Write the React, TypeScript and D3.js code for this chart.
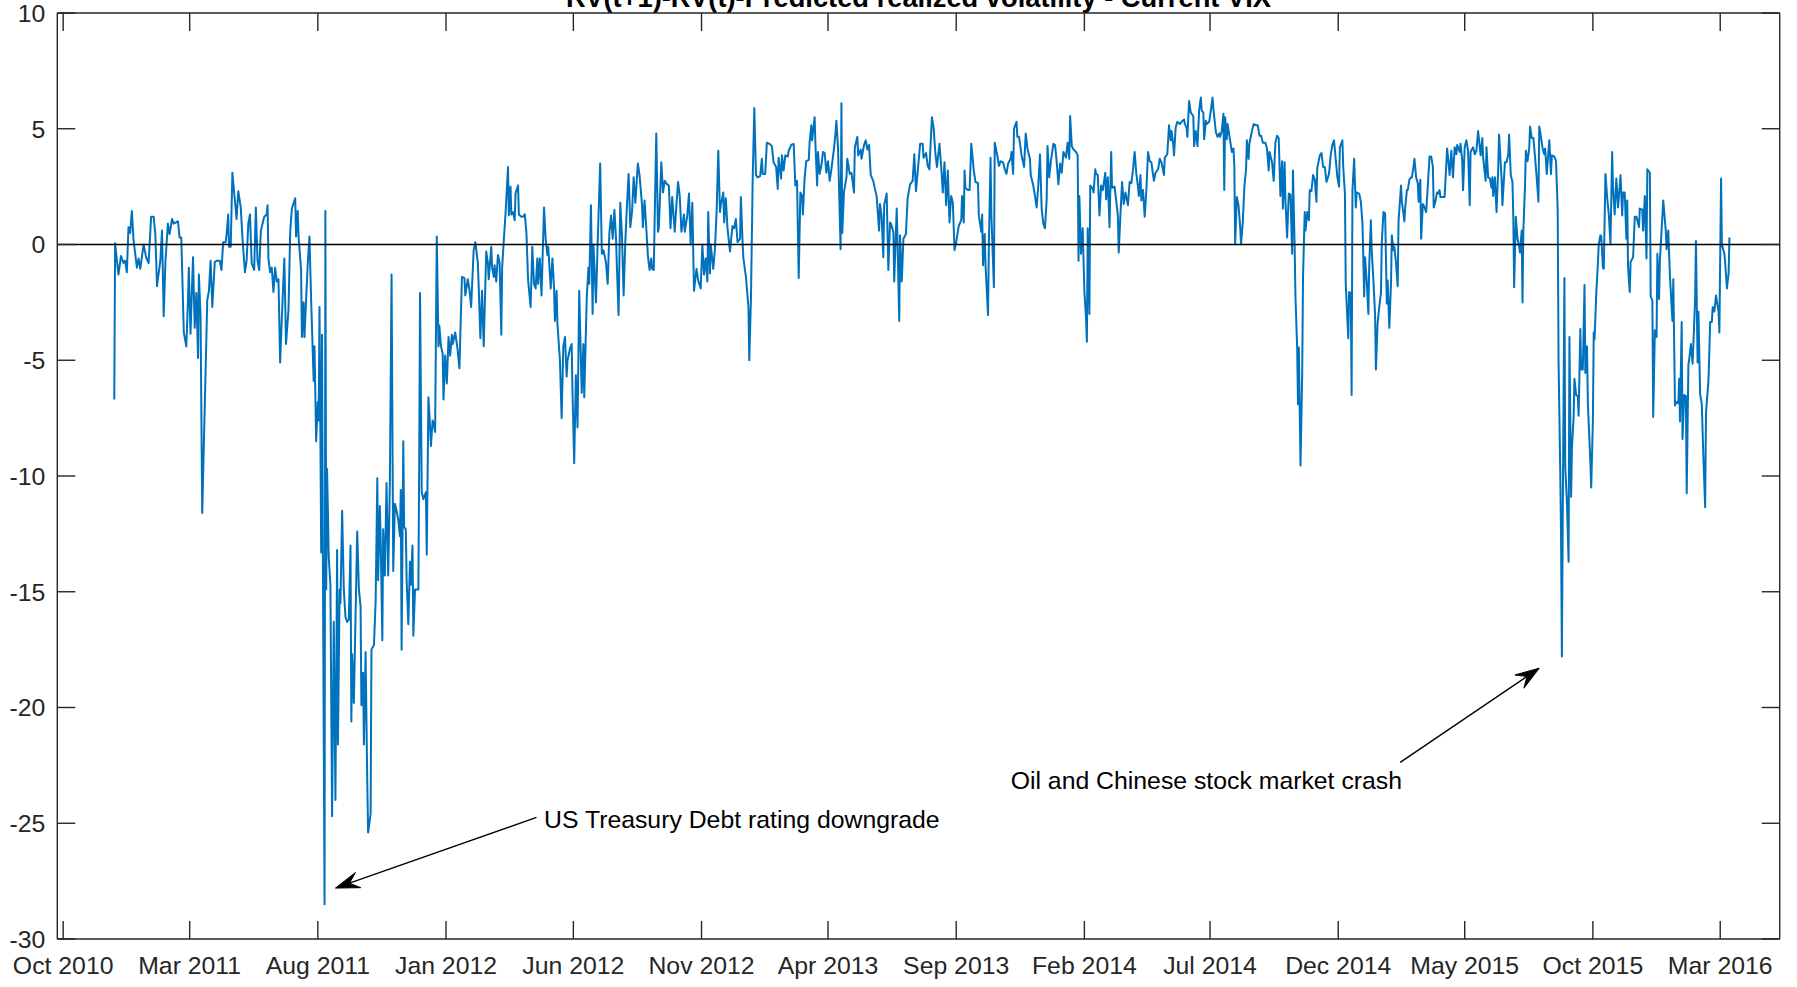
import React from "react";
import * as d3 from "d3";

// Daily observations: [days after 1 Oct 2010, value]
const EPOCH = Date.UTC(2010, 9, 1);
const DAY_MS = 86400000;

const obs2011a: [number, number][] = [
  [61, -6.7], [62, 0.05], [66, -1.3], [69, -0.5], [72, -0.8], [74, -0.7], [76, -1.2], [78, 0.75], [80, 0.5], [82, 1.45],
  [84, 0.2], [88, -1.0], [90, -0.6], [92, -1.05], [96, 0], [99, -0.55], [102, -0.8], [105, 1.2], [108, 1.2], [110, 0.45],
  [112, -1.8], [116, -0.7], [118, 0.6], [120, -3.1], [122, -0.8], [125, 0.9], [127, 0.45], [130, 1.1], [132, 0.9], [137, 1.0],
  [139, 0.3], [141, 0.3], [144, -3.8], [147, -4.4], [149, -2.4], [150, -1.0], [152, -3.85], [155, -0.55], [157, -3.6], [159, -2.1],
  [161, -4.9], [162, -1.3], [164, -3.1], [166, -11.6], [172, -2.4], [174, -2.0], [176, -0.7], [178, -2.7], [181, -0.75], [184, -0.7],
  [187, -0.7], [189, -1.1], [191, 0.1], [194, 0.1], [195, 0.4], [197, 1.3], [198, -0.1], [200, -0.1], [202, 3.1], [205, 1.9],
  [207, 1.1], [209, 2.3], [212, 1.6], [214, 0.3], [217, -1.2], [219, -0.7], [221, 0.9], [223, 1.3], [225, -0.8], [228, -1.1],
  [230, 1.6], [232, -0.7], [234, -1.1], [236, 0.6], [240, 1.2], [243, 1.3], [244, 1.7], [245, -0.6], [247, -1.2], [249, -1.0],
  [251, -2.05],
];

const obs2011b: [number, number][] = [
  [253, -1.0], [255, -1.6], [257, -1.5], [259, -5.1], [261, -3.2], [264, -0.6], [266, -4.3], [269, -2.8], [271, 0.55], [273, 1.55],
  [277, 2.0], [278, 0.35], [280, 1.45], [281, 0.35], [284, -1.1], [285, -4.0], [287, -2.5], [288, -4.0], [290, -2.4], [292, -0.8],
  [294, 0.35], [296, -2.4], [299, -5.9], [300, -4.4], [302, -8.5], [304, -6.8], [305, -7.6], [306, -2.7], [308, -13.3], [309, -3.9],
  [310, -13.3], [312, -28.5], [313, 1.45], [314, -14.9], [315, -9.7], [316, -11.5], [317, -13.5], [319, -14.7], [321, -24.7], [323, -16.3],
  [325, -24.0], [327, -13.2], [328, -21.6], [330, -14.9], [331, -15.5], [333, -11.5], [335, -14.9], [337, -16.1], [339, -16.3], [341, -16.2],
  [343, -13.0], [344, -20.6], [345, -17.7], [347, -19.8], [349, -16.1], [351, -12.4], [353, -14.9], [355, -15.6], [356, -19.9], [358, -18.5],
  [359, -21.6], [361, -17.6], [363, -23.2], [364, -25.4], [367, -24.6], [368, -17.5], [371, -17.3], [373, -15.4], [375, -10.1], [376, -14.5],
  [378, -11.3], [379, -12.7], [381, -17.1], [382, -12.3], [384, -14.3], [386, -10.3], [388, -14.3], [390, -10.3], [392, -1.3], [394, -14.1],
  [396, -11.2], [398, -11.5], [400, -11.9], [402, -12.6], [403, -10.6], [404, -17.5], [406, -8.5], [407, -12.2], [409, -12.3], [410, -14.5],
  [412, -16.4], [414, -13.7], [415, -14.7], [417, -13.0], [418, -16.9], [420, -14.9], [422, -14.9], [424, -14.9], [425, -9.3], [426, -2.1],
  [428, -10.7], [430, -11.0], [433, -10.7], [434, -13.4], [436, -6.6], [437, -7.2], [439, -8.7], [441, -7.6], [442, -7.7], [444, -8.1],
  [446, 0.35], [448, -4.4], [449, -3.5], [451, -4.4], [453, -4.7], [454, -6.7], [456, -4.8], [458, -6.0],
];

const obs2012a: [number, number][] = [
  [460, -4.0], [462, -4.8], [464, -3.9], [465, -4.3], [468, -3.8], [471, -4.6], [473, -5.35], [476, -1.4], [479, -1.45], [480, -2.2],
  [483, -1.5], [485, -1.95], [487, -2.7], [490, -0.25], [492, 0.1], [495, -0.8], [496, -1.8], [498, -4.05], [500, -2.0], [502, -4.4],
  [505, -0.3], [507, -0.8], [508, -1.5], [511, -0.1], [512, -1.0], [514, -1.4], [515, -0.9], [517, -1.6], [519, -0.45], [521, -0.8],
  [523, -3.9], [524, -1.0], [526, 0.2], [528, 1.3], [531, 3.35], [532, 1.25], [534, 2.5], [535, 1.3], [537, 1.4], [539, 1.05],
  [540, 2.2], [543, 2.55], [544, 1.3], [547, 1.2], [549, 1.2], [551, 1.3], [553, 0.5], [555, -1.55], [558, -2.7], [560, -0.1],
  [562, -1.7], [564, -1.9], [566, -0.6], [567, -1.7], [569, -0.6], [571, -2.2], [574, 1.6], [576, 0.2], [578, -0.45], [579, -0.1],
  [582, -1.9], [584, -0.6], [586, -1.9], [587, -3.3], [589, -2.0], [590, -3.4], [592, -4.5], [593, -5.0], [595, -7.5], [597, -4.4],
  [599, -4.0], [601, -5.7], [602, -5.0], [605, -4.5], [607, -4.3], [608, -6.4], [610, -9.45], [612, -5.65], [614, -7.9], [616, -2.0],
  [619, -6.4], [621, -4.3], [622, -6.6], [625, -2.3], [627, -1.0], [628, -1.7], [630, 1.7], [632, -3.0], [633, 0], [636, -2.5],
  [638, 0.05], [641, 3.5], [643, -0.4], [645, -0.25], [648, -0.8], [650, -1.7], [652, 0.5], [654, 1.25], [656, 0.25], [658, 1.5],
  [660, 0.2], [661, -1.0], [663, -3.05],
];

const obs2012b: [number, number][] = [
  [665, 1.8], [667, 0.4], [669, -2.2], [671, 0.1], [673, 1.7], [675, 3.05], [677, 0.75], [679, 1.4], [681, 2.9], [683, 1.8],
  [686, 3.5], [688, 3.0], [691, 1.7], [692, 0.75], [694, 1.9], [696, 0.75], [698, -0.5], [700, -1.1], [702, -0.6], [703, -1.05],
  [705, -1.1], [706, 0.95], [708, 4.8], [710, 0.55], [711, 0.7], [714, 3.55], [716, 2.25], [718, 2.75], [721, 2.6], [723, 2.55],
  [725, 0.7], [727, 2.05], [730, 0.55], [732, 1.7], [734, 2.7], [736, 2.1], [738, 0.55], [741, 1.3], [742, 0.55], [745, 1.25],
  [747, 2.2], [749, 0], [751, 1.8], [753, -2.0], [756, -1.05], [758, -1.55], [761, -1.9], [763, 0], [765, -1.3], [767, -0.6],
  [769, -1.6], [770, 1.4], [772, -1.25], [773, 0], [776, -1.05], [778, -0.2], [780, 1.4], [782, 4.05], [784, 1.4], [785, 1.7],
  [788, 2.25], [789, 0.95], [791, 2.0], [793, 0.7], [796, -0.3], [797, 0.1], [799, 0.8], [801, 0.7], [803, 1.1], [805, 0.1],
  [808, 0.25], [809, 2.05], [811, 0.1], [812, -0.6], [815, -1.4], [818, -2.7], [819, -5.0], [821, -2.35], [823, 2.7], [825, 5.9],
  [827, 3.0], [829, 2.9], [832, 2.95], [834, 3.7], [835, 3.05], [838, 3.05], [840, 4.4], [843, 4.35], [846, 4.25], [848, 3.55],
  [851, 3.35], [853, 2.4], [854, 3.75], [857, 2.85], [858, 3.85], [860, 3.2], [862, 3.85], [865, 3.8], [866, 4.05], [868, 4.2],
];

const obs2013: [number, number][] = [
  [869, 4.3], [872, 4.35], [874, 2.55], [876, 2.75], [878, -1.45], [880, 2.25], [882, 2.1], [883, 1.3], [885, 2.85], [887, 3.6],
  [890, 3.65], [891, 4.4], [893, 5.15], [894, 4.5], [897, 5.5], [898, 4.3], [900, 2.55], [901, 4.0], [903, 3.05], [905, 3.4],
  [907, 4.0], [909, 3.95], [911, 3.1], [913, 3.6], [915, 2.75], [917, 3.25], [920, 4.1], [922, 4.85], [923, 5.35], [925, 4.1],
  [928, -0.2], [929, 6.1], [930, 0.5], [932, 2.25], [935, 2.9], [936, 3.7], [939, 3.05], [941, 3.1], [944, 2.25], [945, 4.2],
  [948, 4.65], [949, 3.85], [952, 4.1], [953, 3.7], [956, 4.3], [958, 4.5], [960, 4.1], [962, 4.3], [964, 3.0], [967, 2.75],
  [969, 2.4], [971, 2.1], [974, 0.6], [975, 1.75], [977, 1.2], [979, -0.55], [980, 1.7], [983, 2.2], [985, -1.1], [987, 0.95],
  [988, 0.9], [991, 0.55], [992, -1.6], [995, 1.55], [996, 0.1], [998, -3.3], [999, 0.4], [1001, -1.6], [1003, 0.25], [1006, 0.45],
  [1008, 2.0], [1011, 2.6], [1014, 2.75], [1016, 3.9], [1018, 2.3], [1021, 3.55], [1023, 4.35], [1026, 4.35], [1027, 3.75], [1030, 3.95],
  [1032, 3.4], [1034, 3.25], [1037, 5.5], [1039, 5.05], [1041, 4.0], [1043, 3.35], [1046, 4.35], [1048, 3.4], [1050, 2.25], [1052, 3.55],
  [1054, 1.7], [1056, 3.2], [1058, 0.95], [1060, 2.1], [1062, 1.8], [1064, -0.25], [1066, 0.1], [1069, 0.8], [1072, 1.05], [1073, 2.1],
];

const obs2014a: [number, number][] = [
  [1075, 0.95], [1076, 3.2], [1077, 2.45], [1080, 2.35], [1082, 2.35], [1084, 4.35], [1087, 3.2], [1089, 2.7], [1092, 2.65], [1093, 1.25],
  [1096, 0.55], [1097, 1.3], [1098, -0.9], [1100, 0.45], [1101, -0.9], [1104, -3.05], [1105, 0], [1107, 3.75], [1108, 1.25], [1111, -1.85],
  [1112, 4.4], [1115, 3.85], [1117, 3.4], [1119, 3.6], [1122, 3.55], [1124, 3.25], [1126, 3.05], [1128, 3.5], [1131, 3.7], [1132, 4.0],
  [1134, 3.05], [1135, 5.0], [1138, 5.3], [1139, 4.65], [1141, 4.65], [1143, 4.15], [1144, 3.85], [1147, 3.35], [1149, 4.8], [1151, 4.15],
  [1154, 3.7], [1155, 3.0], [1158, 2.55], [1160, 2.1], [1162, 1.6], [1164, 2.55], [1166, 3.9], [1168, 1.55], [1170, 0.9], [1172, 0.7],
  [1174, 1.95], [1175, 4.25], [1177, 2.9], [1179, 3.6], [1182, 4.35], [1184, 4.3], [1186, 3.55], [1188, 2.6], [1190, 3.5], [1192, 3.1],
  [1194, 4.0], [1197, 3.75], [1199, 4.4], [1201, 3.7], [1202, 5.55], [1204, 4.25], [1206, 4.1], [1209, 4.0], [1211, 3.85], [1212, -0.7],
  [1213, 2.1], [1215, -0.4], [1217, 0.7], [1219, -2.0], [1221, -3.2], [1222, -4.2], [1223, 0.7], [1225, -3.0], [1226, 2.55], [1229, 2.4],
  [1230, 2.25], [1232, 3.25], [1233, 3.05], [1235, 3.0], [1237, 1.25], [1239, 2.55], [1241, 2.35], [1244, 3.1], [1245, 1.95], [1247, 2.9],
  [1249, 0.75], [1251, 4.0], [1252, 2.45], [1255, 2.5], [1257, 1.9], [1259, 1.25], [1260, -0.35], [1262, 1.25], [1264, 2.7], [1266, 1.75],
  [1268, 2.25], [1271, 1.7], [1273, 2.7], [1275, 2.65], [1277, 3.2], [1279, 4.0],
];

const obs2014b: [number, number][] = [
  [1281, 3.05], [1283, 2.5], [1284, 2.1], [1286, 3.0], [1287, 1.9], [1289, 2.35], [1291, 1.2], [1293, 2.35], [1295, 4.0], [1297, 3.6],
  [1299, 3.55], [1302, 2.75], [1304, 3.1], [1307, 3.25], [1309, 3.7], [1311, 3.55], [1314, 3.0], [1315, 3.75], [1318, 3.9], [1320, 5.15],
  [1322, 4.5], [1323, 4.9], [1325, 4.35], [1326, 3.85], [1328, 5.05], [1330, 5.3], [1333, 5.2], [1335, 5.3], [1338, 5.4], [1339, 5.2],
  [1341, 5.05], [1342, 4.65], [1344, 6.2], [1346, 5.7], [1349, 5.55], [1350, 4.25], [1352, 4.9], [1354, 4.25], [1356, 5.8], [1358, 6.35],
  [1359, 5.8], [1361, 5.7], [1362, 4.55], [1364, 5.35], [1365, 5.2], [1368, 5.3], [1370, 5.8], [1372, 6.35], [1373, 5.85], [1376, 4.85],
  [1378, 4.65], [1380, 4.8], [1381, 4.65], [1383, 4.9], [1385, 5.65], [1386, 2.35], [1387, 5.5], [1389, 4.55], [1390, 5.2], [1393, 4.5],
  [1395, 4.0], [1397, 4.15], [1398, 3.4], [1399, 0], [1401, 2.05], [1403, 1.7], [1405, 0.75], [1406, 0], [1408, 0.9], [1410, 2.5],
  [1412, 3.25], [1413, 4.5], [1415, 3.7], [1416, 4.35], [1419, 4.9], [1421, 5.2], [1424, 5.15], [1426, 5.15], [1428, 4.7], [1430, 4.7],
  [1432, 4.4], [1435, 4.4], [1437, 4.15], [1439, 3.2], [1440, 4.0], [1443, 3.55], [1445, 2.75], [1447, 4.4], [1449, 4.7], [1451, 4.6],
  [1453, 2.1], [1455, 3.6], [1456, 1.55], [1458, 3.55], [1459, 1.9], [1461, 0.3], [1463, 2.2], [1465, 2.15], [1467, -0.4], [1468, 3.2],
  [1470, -0.1], [1471, -2.3], [1473, -4.45], [1474, -6.9], [1475, -4.45], [1477, -9.55], [1479, -5.6], [1480, -1.4], [1482, 1.4], [1483, 0.6],
];

const obs2015a: [number, number][] = [
  [1485, 1.4], [1487, 1.05], [1488, 2.35], [1490, 2.3], [1492, 3.0], [1494, 2.8], [1496, 1.85], [1497, 3.3], [1500, 3.85], [1502, 3.95],
  [1504, 3.35], [1506, 3.35], [1508, 2.7], [1511, 3.05], [1513, 3.85], [1515, 4.3], [1517, 4.5], [1519, 3.7], [1521, 2.9], [1523, 2.5],
  [1524, 4.2], [1527, 4.5], [1528, 3.35], [1530, 2.2], [1531, -1.7], [1534, -4.05], [1535, -2.05], [1537, -2.1], [1538, -6.5], [1539, 2.35],
  [1541, 3.7], [1543, 1.6], [1544, 2.25], [1547, 2.2], [1549, 1.85], [1551, 0.9], [1553, -2.25], [1554, -0.55], [1556, -1.55], [1558, -3.0],
  [1559, -0.95], [1561, 1.05], [1562, -0.25], [1564, -1.55], [1566, -3.0], [1567, -5.4], [1569, -3.4], [1571, -2.7], [1573, -2.1], [1574, 0.05],
  [1576, 1.4], [1578, 1.35], [1580, -2.55], [1581, -1.55], [1583, -3.6], [1585, -1.7], [1586, 0.4], [1588, -0.25], [1589, -0.1], [1591, -0.8],
  [1593, -1.8], [1594, 1.0], [1597, 2.55], [1598, 1.85], [1601, 1.0], [1602, 1.6], [1604, 2.35], [1605, 2.35], [1607, 2.8], [1609, 2.9],
  [1610, 2.9], [1612, 3.4], [1613, 3.7], [1615, 2.9], [1617, 2.65], [1618, 1.85], [1620, 2.8], [1621, 0.25], [1623, 1.75], [1625, 1.6],
  [1627, 1.4], [1629, 2.55], [1631, 3.8], [1633, 3.8], [1635, 3.35], [1636, 1.6], [1638, 1.85], [1640, 2.25], [1641, 2.2], [1643, 2.35],
  [1644, 2.05], [1647, 2.05], [1649, 2.05], [1652, 4.15], [1653, 3.8], [1655, 3.0], [1657, 4.05], [1659, 2.9], [1661, 4.2], [1663, 3.9],
  [1664, 4.3], [1667, 4.0], [1668, 4.35], [1670, 3.65], [1671, 2.35], [1673, 4.2], [1675, 4.5], [1677, 4.05], [1679, 1.7], [1680, 4.0],
  [1683, 4.2], [1685, 3.9], [1687, 4.05],
];

const obs2015b: [number, number][] = [
  [1689, 4.9], [1691, 4.2], [1692, 3.85], [1694, 4.6], [1695, 3.75], [1698, 2.75], [1699, 4.2], [1701, 2.9], [1703, 2.85], [1705, 2.45],
  [1706, 2.9], [1707, 2.1], [1709, 2.9], [1711, 1.4], [1713, 3.3], [1714, 4.75], [1717, 2.85], [1718, 1.7], [1721, 3.55], [1723, 3.55],
  [1725, 3.9], [1726, 4.75], [1728, 3.0], [1730, 2.7], [1731, 1.2], [1732, -1.85], [1734, 1.2], [1736, 0.25], [1738, -0.1], [1739, -0.35],
  [1741, 0.6], [1742, -2.5], [1743, 0.6], [1745, 2.55], [1746, 4.05], [1748, 3.6], [1750, 4.15], [1751, 5.1], [1753, 4.6], [1755, 4.6],
  [1757, 3.75], [1759, 2.85], [1761, 1.85], [1762, 5.1], [1764, 4.65], [1766, 4.15], [1768, 3.9], [1769, 4.15], [1771, 3.05], [1773, 4.05],
  [1774, 4.5], [1776, 3.05], [1777, 3.85], [1780, 3.8], [1782, 3.6], [1784, 1.5], [1785, -5.0], [1787, -9.7], [1788, -12.6], [1789, -17.8],
  [1790, -11.85], [1792, -1.45], [1793, -9.6], [1795, -11.1], [1797, -13.7], [1798, -4.0], [1800, -10.9], [1801, -8.8], [1803, -7.45], [1804, -5.8],
  [1806, -6.5], [1808, -6.55], [1809, -7.4], [1811, -3.65], [1812, -5.4], [1814, -5.4], [1816, -1.75], [1817, -5.55], [1819, -4.4], [1820, -6.85],
  [1823, -9.4], [1824, -10.5], [1826, -7.6], [1827, -3.8], [1828, -4.1], [1830, -2.15], [1832, -0.8], [1833, 0], [1835, 0.4], [1836, 0.35],
  [1838, -1.0],
];

const obs2016: [number, number][] = [
  [1839, -1.05], [1841, 3.05], [1843, 2.05], [1845, 1.3], [1847, 0], [1849, 4.0], [1850, 2.5], [1852, 1.3], [1854, 2.85], [1856, 1.6],
  [1858, 2.5], [1859, 3.0], [1861, 1.25], [1862, 2.25], [1864, 2.25], [1866, 0.25], [1867, 1.9], [1868, -1.0], [1870, -2.05], [1871, -0.75],
  [1874, -0.55], [1876, 1.2], [1878, 1.2], [1881, 0.75], [1882, 1.55], [1885, 1.5], [1886, 0.6], [1888, 2.1], [1890, -0.6], [1891, 3.25],
  [1894, 3.1], [1895, -2.25], [1897, -2.4], [1898, -7.45], [1900, -3.7], [1902, -4.0], [1903, -0.4], [1905, -2.35], [1906, -0.7], [1908, 0.6],
  [1910, 1.9], [1913, 0.6], [1914, -0.2], [1916, 0.6], [1918, -1.4], [1921, -3.3], [1922, -1.5], [1924, -6.95], [1926, -6.8], [1928, -6.85],
  [1929, -5.8], [1930, -7.65], [1932, -3.35], [1933, -8.4], [1935, -6.5], [1937, -6.55], [1938, -10.75], [1940, -5.2], [1941, -4.95], [1943, -4.3],
  [1945, -5.15], [1946, -4.3], [1948, -2.4], [1949, 0.15], [1951, -5.1], [1952, -2.9], [1954, -6.45], [1956, -6.9], [1958, -9.3], [1960, -11.35],
  [1961, -7.3], [1964, -5.85], [1966, -3.35], [1968, -3.35], [1969, -2.7], [1971, -2.9], [1973, -2.2], [1976, -2.9], [1977, -3.8], [1979, 2.85],
  [1980, 0], [1983, -0.4], [1984, -0.85], [1986, -1.9], [1988, -1.25], [1989, 0.3],
];

const yTicks = [-30, -25, -20, -15, -10, -5, 0, 5, 10];
const xTickMonths: [number, number][] = [
  [2010, 9], [2011, 2], [2011, 7], [2012, 0], [2012, 5], [2012, 10], [2013, 3],
  [2013, 8], [2014, 1], [2014, 6], [2014, 11], [2015, 4], [2015, 9], [2016, 2],
];

const titleText = "RV(t+1)-RV(t)-Predicted realized volatility - Current VIX";

// Annotations: arrow tail/head in [day offset, value], label anchor in [day offset, value]
const annotations = [
  { text: "US Treasury Debt rating downgrade", tail: [565, -24.75], head: [325, -27.8], label: [574, -25.2] },
  { text: "Oil and Chinese stock market crash", tail: [1596, -22.37], head: [1762, -18.3], label: [1131, -23.5] },
];

const W = 1797;
const H = 987;
const FONT = "'Liberation Sans', Arial, Helvetica, sans-serif";
const AXIS = "#262626";
const LINE = "#0072BD";
const FS = 24.8;

const toDate = (d: number) => new Date(EPOCH + d * DAY_MS);

export default function App() {
  const series = [
    ...obs2011a, ...obs2011b, ...obs2012a, ...obs2012b, ...obs2013,
    ...obs2014a, ...obs2014b, ...obs2015a, ...obs2015b, ...obs2016,
  ].map(([d, v]) => ({ date: toDate(d), value: v }));

  const left = 57.3, right = 1779.7, top = 13, bottom = 939;
  const x = d3
    .scaleUtc()
    .domain([new Date(Date.UTC(2010, 8, 24)), new Date(Date.UTC(2016, 4, 11))])
    .range([left, right]);
  const y = d3.scaleLinear().domain([-30, 10]).range([bottom, top]);

  const line = d3
    .line<{ date: Date; value: number }>()
    .x((p) => x(p.date))
    .y((p) => y(p.value));

  const fmt = d3.utcFormat("%b %Y");
  const xTicks = xTickMonths.map(([yr, m]) => new Date(Date.UTC(yr, m, 1)));
  const tickLen = 18;

  const arrowPath = (tx: number, ty: number, hx: number, hy: number) => {
    const dx = hx - tx, dy = hy - ty;
    const len = Math.hypot(dx, dy);
    const ux = dx / len, uy = dy / len;
    const nx = -uy, ny = ux;
    const L = 24, w = 8, notch = 0.62 * L;
    const bx = hx - L * ux, by = hy - L * uy;
    const kx = hx - notch * ux, ky = hy - notch * uy;
    return {
      shaft: `M${tx},${ty}L${kx},${ky}`,
      head: `M${hx},${hy}L${bx + w * nx},${by + w * ny}L${kx},${ky}L${bx - w * nx},${by - w * ny}Z`,
    };
  };

  return (
    <svg
      width={W}
      height={H}
      viewBox={`0 0 ${W} ${H}`}
      style={{ position: "absolute", left: 0, top: 0, background: "#fff" }}
      fontFamily={FONT}
    >
      <rect x={0} y={0} width={W} height={H} fill="#fff" />
      <text x={(left + right) / 2} y={6.5} textAnchor="middle" fontSize={27.3} fontWeight="bold" fill="#000">
        {titleText}
      </text>

      <path d={line(series) ?? ""} fill="none" stroke={LINE} strokeWidth={2} strokeLinejoin="round" />

      <line x1={left} x2={right} y1={y(0)} y2={y(0)} stroke="#000" strokeWidth={1.4} />

      {/* frame */}
      <g stroke={AXIS} strokeWidth={1.4} fill="none">
        <line x1={left} x2={right} y1={bottom} y2={bottom} />
        <line x1={left} x2={right} y1={top} y2={top} />
        <line x1={left} x2={left} y1={top} y2={bottom} />
        <line x1={right} x2={right} y1={top} y2={bottom} />
        {xTicks.map((t, i) => (
          <g key={`xt${i}`}>
            <line x1={x(t)} x2={x(t)} y1={bottom} y2={bottom - tickLen} />
            <line x1={x(t)} x2={x(t)} y1={top} y2={top + tickLen} />
          </g>
        ))}
        {yTicks.map((v) => (
          <g key={`yt${v}`}>
            <line x1={left} x2={left + tickLen} y1={y(v)} y2={y(v)} />
            <line x1={right} x2={right - tickLen} y1={y(v)} y2={y(v)} />
          </g>
        ))}
      </g>

      <g fill={AXIS} fontSize={FS}>
        {xTicks.map((t, i) => (
          <text key={`xl${i}`} x={x(t)} y={973.5} textAnchor="middle">
            {fmt(t)}
          </text>
        ))}
        {yTicks.map((v) => (
          <text key={`yl${v}`} x={left - 12} y={y(v) + 8.8} textAnchor="end">
            {v}
          </text>
        ))}
      </g>

      {annotations.map((a, i) => {
        const tx = x(toDate(a.tail[0])), ty = y(a.tail[1]);
        const hx = x(toDate(a.head[0])), hy = y(a.head[1]);
        const p = arrowPath(tx, ty, hx, hy);
        return (
          <g key={`an${i}`}>
            <path d={p.shaft} stroke="#000" strokeWidth={1.4} fill="none" />
            <path d={p.head} fill="#000" stroke="#000" strokeWidth={1} strokeLinejoin="miter" />
            <text x={x(toDate(a.label[0]))} y={y(a.label[1])} fontSize={FS} fill="#000">
              {a.text}
            </text>
          </g>
        );
      })}
    </svg>
  );
}
